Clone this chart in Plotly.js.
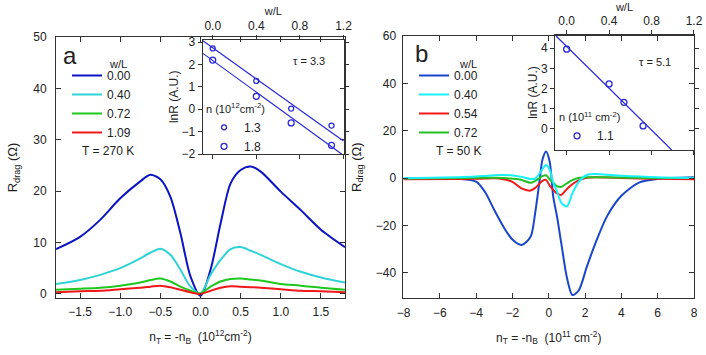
<!DOCTYPE html>
<html>
<head>
<meta charset="utf-8">
<script src="https://cdn.plot.ly/plotly-3.0.1.min.js"></script>
<style>
  html, body { margin: 0; padding: 0; background: #fff; }
  #chart { width: 706px; height: 355px; }
</style>
</head>
<body>
<div id="chart"></div>
<script>
// panel a : T = 270 K, density in 10^12 cm^-2
const aX = [-1.8, -1.5, -1.25, -1.0, -0.75, -0.625, -0.5, -0.375, -0.25, -0.125, 0,
            0.125, 0.25, 0.375, 0.5, 0.625, 0.75, 1.0, 1.25, 1.5, 1.8];
const aW000 = [8.7, 11.1, 14.4, 18.6, 21.9, 23.2, 22.3, 18.9, 11.8, 3.4, -0.4,
               4.7, 13.7, 21.5, 24.1, 24.8, 23.8, 19.9, 16.3, 12.5, 9.1];
const aW040 = [1.9, 2.7, 3.7, 5.0, 6.9, 8.0, 8.8, 7.6, 4.7, 1.4, 0.1,
               3.7, 6.6, 8.7, 9.1, 8.4, 7.6, 5.8, 4.3, 3.2, 2.2];
const aW072 = [0.8, 1.0, 1.2, 1.6, 2.2, 2.7, 3.0, 2.4, 1.4, 0.6, 0.1,
               1.4, 2.4, 2.9, 3.0, 2.8, 2.6, 1.9, 1.6, 1.2, 0.8];
const aW109 = [0.3, 0.5, 0.6, 0.9, 1.2, 1.4, 1.6, 1.3, 0.8, 0.3, 0.0,
               0.6, 1.2, 1.5, 1.4, 1.3, 1.2, 0.9, 0.6, 0.5, 0.3];

// inset a : lnR vs w/L
const insetAX = [0, 0.4, 0.72, 1.09];
const insetA13 = [2.72, 1.27, 0.03, -0.73];
const insetA18 = [2.2, 0.58, -0.61, -1.61];
const fitAX = [-0.09, 1.2];
const fitA13 = [3.06, -1.42];
const fitA18 = [2.5, -2.06];

// panel b : T = 50 K, density in 10^11 cm^-2
const bX = [-8, -5, -4, -3.5, -3, -2.5, -2, -1.5, -1, -0.75, -0.5, -0.35, -0.15, 0.05,
            0.25, 0.45, 0.7, 1, 1.3, 1.65, 2.1, 2.6, 3.2, 4, 5, 6, 8];
const bW000 = [-0.3, -0.3, -1.5, -6, -13.5, -20.5, -26, -28.3, -24.8, -14.9, -0.8, 7.6, 11.2, 7,
               -8, -16, -28, -42, -49.4, -47.5, -37.4, -27, -16.3, -7.5, -1.8, -0.4, 0.3];
const bW040 = [-0.1, 0.3, 0.6, 0.9, 1.2, 1.3, 1.1, 0.5, -0.4, -0.2, 2.0, 3.8, 5.5, 3.5,
               -2, -5.5, -10.5, -12, -6.5, -1.6, 1.3, 1.7, 1.4, 1.0, 0.6, 0.3, 0];
const bW054 = [-0.5, -0.4, -0.3, -0.2, -0.1, -0.5, -1.6, -4.4, -5.3, -4.2, -2.3, -1.2, -0.8, -3.2,
               -5, -6.5, -7.1, -4.6, -2.6, -1, 0.1, 0.3, 0.2, 0, -0.2, -0.3, -0.5];
const bW072 = [-0.2, 0, 0.1, 0.1, 0.1, 0, -0.3, -0.8, -2.0, -1.2, 0, 0.8, 1.2, -0.5,
               -2, -3.4, -3.7, -2.2, -0.9, 0, 0.3, 0.3, 0.3, 0.2, 0.1, 0, 0];

// inset b
const insetBX = [0, 0.4, 0.54, 0.72];
const insetB11 = [3.95, 2.23, 1.32, 0.15];
const fitBX = [-0.1, 0.99];
const fitB11 = [4.6, -1.04];

const FONT = "Liberation Sans, Arial, sans-serif";
const INK = "#222";
const INSET = "#2a2ad8";

function line(x, y, name, color, xa, ya, leg, rank) {
  return {
    x: x, y: y, name: name, type: "scatter", mode: "lines",
    line: { color: color, width: 2, shape: "spline", smoothing: 0.8 },
    xaxis: xa, yaxis: ya, legend: leg, legendrank: rank
  };
}

const traces = [
  line(aX, aW000, "0.00", "#0b14c2", "x", "y", "legend", 1),
  line(aX, aW040, "0.40", "#2fd3d6", "x", "y", "legend", 2),
  line(aX, aW072, "0.72", "#1ec81e", "x", "y", "legend", 3),
  line(aX, aW109, "1.09", "#f01818", "x", "y", "legend", 4),

  { x: fitAX, y: fitA13, mode: "lines", line: { color: INSET, width: 1.2 },
    xaxis: "x2", yaxis: "y2", showlegend: false },
  { x: fitAX, y: fitA18, mode: "lines", line: { color: INSET, width: 1.2 },
    xaxis: "x2", yaxis: "y2", showlegend: false },
  { x: insetAX, y: insetA13, name: "1.3", mode: "markers",
    marker: { symbol: "circle-open", size: 5, color: INSET, line: { width: 1.3 } },
    xaxis: "x2", yaxis: "y2", legend: "legend2" },
  { x: insetAX, y: insetA18, name: "1.8", mode: "markers",
    marker: { symbol: "circle-open", size: 6, color: INSET, line: { width: 1.3 } },
    xaxis: "x2", yaxis: "y2", legend: "legend2" },

  line(bX, bW000, "0.00", "#1a46cc", "x3", "y3", "legend3", 1),
  line(bX, bW054, "0.54", "#f01818", "x3", "y3", "legend3", 3),
  line(bX, bW072, "0.72", "#22c022", "x3", "y3", "legend3", 4),
  line(bX, bW040, "0.40", "#18f0f8", "x3", "y3", "legend3", 2),

  { x: fitBX, y: fitB11, mode: "lines", line: { color: INSET, width: 1.2 },
    xaxis: "x4", yaxis: "y4", showlegend: false },
  { x: insetBX, y: insetB11, name: "1.1", mode: "markers",
    marker: { symbol: "circle-open", size: 6, color: INSET, line: { width: 1.3 } },
    xaxis: "x4", yaxis: "y4", legend: "legend4" }
];

const frame = {
  showline: true, linecolor: "#333", linewidth: 1, mirror: "ticks",
  ticks: "inside", ticklen: 5, tickcolor: "#333",
  showgrid: false, zeroline: false,
  tickfont: { size: 12, color: INK }
};
const insetFrame = Object.assign({}, frame, { ticks: "outside", ticklen: 4 });

function legendBox(x, y, title) {
  const box = {
    x: x, y: y, xanchor: "left", yanchor: "top",
    bgcolor: "rgba(0,0,0,0)", borderwidth: 0,
    font: { size: 12, color: INK }
  };
  if (title) box.title = { text: title, side: "top", font: { size: 11, color: INK } };
  return box;
}

function note(text, x, y, size) {
  return { text: text, x: x, y: y, xref: "paper", yref: "paper", showarrow: false,
           xanchor: "center", yanchor: "middle", font: { size: size, color: INK } };
}

const layout = {
  width: 706, height: 355,
  margin: { l: 0, r: 0, t: 0, b: 0 },
  paper_bgcolor: "#fff", plot_bgcolor: "rgba(0,0,0,0)",
  font: { family: FONT, color: INK },

  // panel a
  xaxis: Object.assign({}, frame, {
    domain: [0.0793, 0.4887], range: [-1.8, 1.8], dtick: 0.5, tick0: 0,
    tickformat: ".1f", anchor: "y", ticklabelstandoff: 3,
    title: { text: "n<sub>T</sub> = -n<sub>B</sub>\u00a0 (10<sup>12</sup>cm<sup>-2</sup>)",
             font: { size: 12 }, standoff: 14 }
  }),
  yaxis: Object.assign({}, frame, {
    domain: [0.1606, 0.8958], range: [-0.8, 50], dtick: 10, anchor: "x",
    ticklabelstandoff: 6,
    title: { text: "R<sub>drag</sub> (Ω)", font: { size: 13 }, standoff: 12 }
  }),
  // inset a
  xaxis2: Object.assign({}, insetFrame, {
    domain: [0.2871, 0.4873], range: [-0.092, 1.205], dtick: 0.4, tick0: 0,
    tickformat: ".1f", side: "top", anchor: "y2",
    title: { text: "w/L", font: { size: 11 }, standoff: 0 }
  }),
  yaxis2: Object.assign({}, insetFrame, {
    domain: [0.5662, 0.8887], range: [-2, 3.12], dtick: 1, anchor: "x2",
    title: { text: "lnR (A.U.)", font: { size: 12 }, standoff: 0 }
  }),
  // panel b
  xaxis3: Object.assign({}, frame, {
    domain: [0.5715, 0.983], range: [-8, 8], dtick: 2, anchor: "y3", ticklabelstandoff: 3,
    title: { text: "n<sub>T</sub> = -n<sub>B</sub>\u00a0 (10<sup>11</sup> cm<sup>-2</sup>)",
             font: { size: 12 }, standoff: 14 }
  }),
  yaxis3: Object.assign({}, frame, {
    domain: [0.1597, 0.8986], range: [-50.8, 60], dtick: 20, anchor: "x3",
    ticklabelstandoff: 4,
    title: { text: "R<sub>drag</sub> (Ω)", font: { size: 13 }, standoff: 11 }
  }),
  // inset b
  xaxis4: Object.assign({}, insetFrame, {
    domain: [0.7861, 0.983], range: [-0.11, 1.2], dtick: 0.4, tick0: 0,
    tickformat: ".1f", side: "top", anchor: "y4",
    title: { text: "w/L", font: { size: 11 }, standoff: 0 }
  }),
  yaxis4: Object.assign({}, insetFrame, {
    domain: [0.5775, 0.9014], range: [-1.04, 4.65], tickvals: [0, 1, 2, 3, 4], anchor: "x4",
    title: { text: "lnR (A.U.)", font: { size: 12 }, standoff: 0 }
  }),

  legend: legendBox(0.0949, 0.8282),
  legend2: legendBox(0.289, 0.7225, "n (10<sup>12</sup>cm<sup>-2</sup>)"),
  legend3: legendBox(0.5864, 0.8282),
  legend4: legendBox(0.789, 0.6986, "n (10<sup>11</sup> cm<sup>-2</sup>)"),

  annotations: [
    note("a", 0.0992, 0.845, 24),
    note("b", 0.5973, 0.85, 24),
    note("w/L", 0.1671, 0.8197, 11),
    note("w/L", 0.6629, 0.8197, 11),
    note("T = 270 K", 0.1534, 0.5746, 12),
    note("T = 50 K", 0.6501, 0.5746, 12),
    note("τ = 3.3", 0.4377, 0.829, 11),
    note("τ = 5.1", 0.9278, 0.826, 11)
  ]
};

document.addEventListener("DOMContentLoaded", function () {
  Plotly.newPlot("chart", traces, layout, { staticPlot: true, displayModeBar: false });
});
</script>
</body>
</html>
